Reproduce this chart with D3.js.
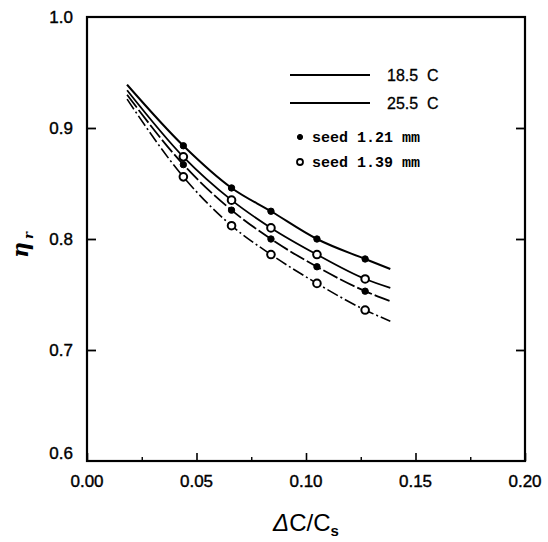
<!DOCTYPE html>
<html>
<head>
<meta charset="utf-8">
<script src="https://cdn.jsdelivr.net/npm/d3@7"></script>
<style>
  body { margin: 0; background: #fff; }
  svg { display: block; }
</style>
</head>
<body>
<div id="chart"></div>
<script>
// x positions of the measured points (supersaturation dC/Cs)
var pointX = [0.044, 0.066, 0.084, 0.105, 0.127];

// eta_r at those points, one list per curve (top to bottom)
var filledTop = [0.884, 0.846, 0.825, 0.800, 0.782];
var openTop = [0.874, 0.835, 0.810, 0.786, 0.764];
var filledLow = [0.867, 0.826, 0.800, 0.775, 0.753];
var openLow = [0.856, 0.812, 0.786, 0.760, 0.736];

// fitted curves run a bit further than the points
var curveStartX = 0.0183, curveEndX = 0.1385;
var curveStartY = [0.939, 0.934, 0.930, 0.926];
var curveEndY = [0.773, 0.756, 0.744, 0.726];

var xTicks = [0.00, 0.05, 0.10, 0.15, 0.20];
var xMinor = [0.025, 0.075, 0.125, 0.175];
var yTicks = [0.6, 0.7, 0.8, 0.9, 1.0];

var legendLines = ["18.5 C", "25.5 C"];
var legendMarks = ["seed 1.21 mm", "seed 1.39 mm"];

var W = 548, H = 542;
// note: "top" is taken by window.top, so use plot* names
var plotL = 87, plotR = 525, plotT = 17, plotB = 461;

var x = d3.scaleLinear().domain([0, 0.2]).range([plotL, plotR]);
var y = d3.scaleLinear().domain([0.6, 1.0]).range([plotB, plotT]);

var svg = d3.select("#chart").append("svg")
    .attr("width", W)
    .attr("height", H);

var series = [
    {vals: filledTop, open: false, dash: null, w: 2},
    {vals: openTop, open: true, dash: null, w: 1.8},
    {vals: filledLow, open: false, dash: "16,3", w: 1.8},
    {vals: openLow, open: true, dash: "12,3,2,3", w: 1.6}
];

series.forEach(function(s, i) {
    s.pts = pointX.map(function(px, j) { return [px, s.vals[j]]; });
    s.line = [[curveStartX, curveStartY[i]]].concat(s.pts, [[curveEndX, curveEndY[i]]]);
});

// frame
svg.append("rect")
    .attr("x", plotL).attr("y", plotT)
    .attr("width", plotR - plotL).attr("height", plotB - plotT)
    .attr("fill", "none")
    .attr("stroke", "#000")
    .attr("stroke-width", 2.2);

// bottom ticks, pointing in
svg.append("g").attr("transform", "translate(0," + plotB + ")")
    .call(d3.axisBottom(x).tickValues(xTicks).tickSize(-8).tickFormat(""))
    .call(function(g) { g.select(".domain").remove(); })
    .selectAll("line").attr("stroke-width", 1.6);
svg.append("g").attr("transform", "translate(0," + plotB + ")")
    .call(d3.axisBottom(x).tickValues(xMinor).tickSize(-4).tickFormat(""))
    .call(function(g) { g.select(".domain").remove(); })
    .selectAll("line").attr("stroke-width", 1.4);

// left and right ticks
[[plotL, d3.axisLeft], [plotR, d3.axisRight]].forEach(function(a) {
    svg.append("g").attr("transform", "translate(" + a[0] + ",0)")
        .call(a[1](y).tickValues([0.7, 0.8, 0.9]).tickSize(-9).tickFormat(""))
        .call(function(g) { g.select(".domain").remove(); })
        .selectAll("line").attr("stroke-width", 1.8);
});

// tick labels
svg.append("g").selectAll("text")
    .data(xTicks)
    .join("text")
    .attr("x", function(d) { return x(d); })
    .attr("y", plotB + 26)
    .attr("text-anchor", "middle")
    .attr("font-family", "Liberation Sans, Arial, sans-serif")
    .attr("font-size", 17)
    .attr("stroke", "#000").attr("stroke-width", 0.4)
    .text(function(d) { return d3.format(".2f")(d); });

svg.append("g").selectAll("text")
    .data(yTicks)
    .join("text")
    .attr("x", plotL - 14)
    .attr("y", function(d) { return y(d) + (d === 0.6 ? -2 : 6); })
    .attr("text-anchor", "end")
    .attr("font-family", "Liberation Sans, Arial, sans-serif")
    .attr("font-size", 17)
    .attr("stroke", "#000").attr("stroke-width", 0.4)
    .text(function(d) { return d3.format(".1f")(d); });

// axis titles
var xt = svg.append("text")
    .attr("x", 306).attr("y", 531)
    .attr("text-anchor", "middle")
    .attr("font-family", "Liberation Sans, Arial, sans-serif")
    .attr("font-size", 24);
xt.append("tspan").attr("font-style", "italic").text("\u0394");
xt.append("tspan").text("C/C");
xt.append("tspan").attr("font-size", 15).attr("dy", 5).attr("font-weight", "bold").text("s");

var yt = svg.append("text")
    .attr("transform", "translate(28,245) rotate(-90)")
    .attr("text-anchor", "middle")
    .attr("font-family", "DejaVu Serif, serif")
    .attr("font-size", 22)
    .attr("font-style", "italic")
    .attr("font-weight", "bold");
yt.append("tspan").text("\u03b7");
yt.append("tspan").attr("font-size", 13).attr("dy", 5).attr("dx", 3).text("r");

// curves
var lineGen = d3.line()
    .x(function(d) { return x(d[0]); })
    .y(function(d) { return y(d[1]); })
    .curve(d3.curveMonotoneX);

svg.append("g").selectAll("path")
    .data(series)
    .join("path")
    .attr("d", function(s) { return lineGen(s.line); })
    .attr("fill", "none")
    .attr("stroke", "#000")
    .attr("stroke-width", function(s) { return s.w; })
    .attr("stroke-dasharray", function(s) { return s.dash; });

// markers
series.forEach(function(s) {
    svg.append("g").selectAll("circle")
        .data(s.pts)
        .join("circle")
        .attr("cx", function(d) { return x(d[0]); })
        .attr("cy", function(d) { return y(d[1]); })
        .attr("r", s.open ? 3.8 : 3.2)
        .attr("fill", s.open ? "#fff" : "#000")
        .attr("stroke", "#000")
        .attr("stroke-width", s.open ? 2 : 1);
});

// legend
var lg = svg.append("g");
legendLines.forEach(function(lab, i) {
    var ly = 75 + i * 28;
    lg.append("line")
        .attr("x1", 290).attr("x2", 370)
        .attr("y1", ly).attr("y2", ly)
        .attr("stroke", "#000").attr("stroke-width", 2);
    lg.append("text")
        .attr("x", 387).attr("y", ly + 6)
        .attr("font-family", "Liberation Sans, Arial, sans-serif")
        .attr("font-size", 16)
        .attr("stroke", "#000").attr("stroke-width", 0.3)
        .text(lab.replace(" ", "\u00a0\u00a0"));
});
legendMarks.forEach(function(lab, i) {
    var ly = 137 + i * 25;
    lg.append("circle")
        .attr("cx", 300).attr("cy", ly)
        .attr("r", i === 0 ? 2.6 : 3)
        .attr("fill", i === 0 ? "#000" : "#fff")
        .attr("stroke", "#000").attr("stroke-width", i === 0 ? 1 : 1.8);
    lg.append("text")
        .attr("x", 312).attr("y", ly + 5)
        .attr("font-family", "Liberation Mono, monospace")
        .attr("font-size", 15)
        .attr("font-weight", "bold")
        .text(lab.replace(/ /g, "\u00a0"));
});
</script>
</body>
</html>
